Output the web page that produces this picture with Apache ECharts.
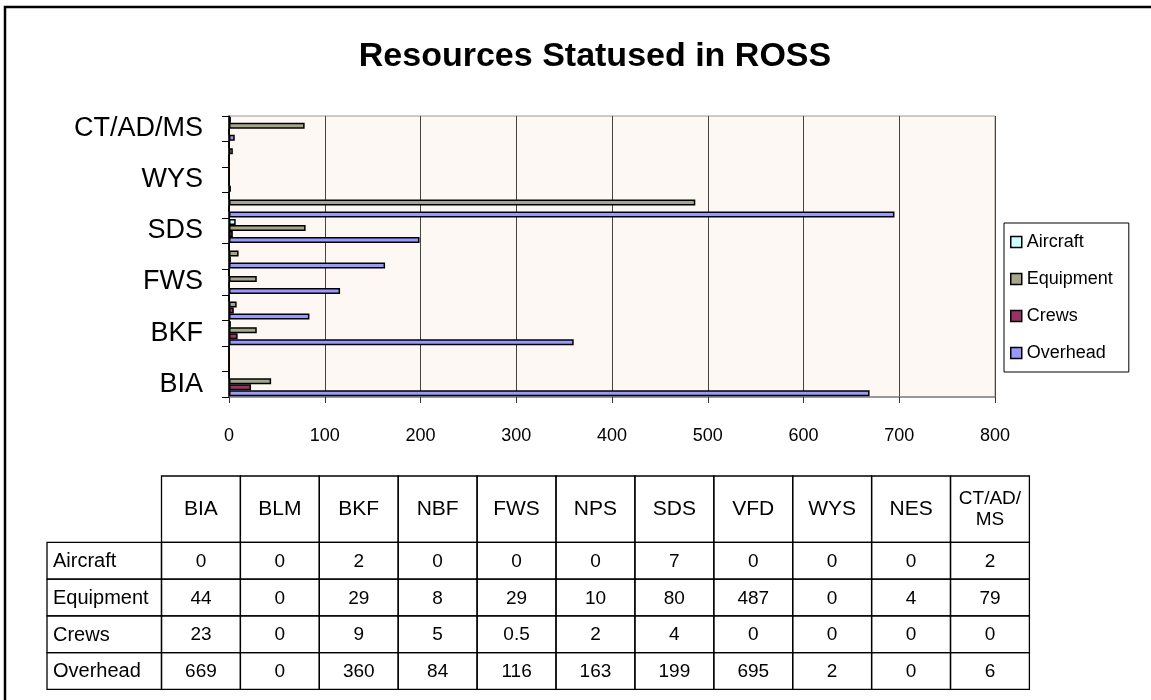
<!DOCTYPE html>
<html>
<head>
<title>Resources Statused in ROSS</title>
<meta charset="UTF-8">
<script src="https://cdn.jsdelivr.net/npm/echarts@6/dist/echarts.min.js"></script>
<style>
  html, body { margin: 0; padding: 0; background: #fff; }
</style>
</head>
<body>
<div id="main" style="width:1151px;height:700px"></div>
<script type="text/javascript">
  // agencies, bottom to top on the chart, left to right in the table
  var agencies = ['BIA', 'BLM', 'BKF', 'NBF', 'FWS', 'NPS', 'SDS', 'VFD', 'WYS', 'NES', 'CT/AD/MS'];
  var seriesNames = ['Aircraft', 'Equipment', 'Crews', 'Overhead'];
  var aircraft  = [0, 0, 2, 0, 0, 0, 7, 0, 0, 0, 2];
  var equipment = [44, 0, 29, 8, 29, 10, 80, 487, 0, 4, 79];
  var crews     = [23, 0, 9, 5, 0.5, 2, 4, 0, 0, 0, 0];
  var overhead  = [669, 0, 360, 84, 116, 163, 199, 695, 2, 0, 6];
  var xTicks = [0, 100, 200, 300, 400, 500, 600, 700, 800];

  var values = [aircraft, equipment, crews, overhead];
  var colors = ['#ccffff', '#a6a68a', '#993366', '#9999ff'];
  var font = '"Liberation Sans", Arial, sans-serif';

  var series = [];
  for (var i = 0; i < seriesNames.length; i++) {
    series.push({
      name: seriesNames[i],
      type: 'bar',
      barWidth: 6,
      barGap: '0%',
      itemStyle: { color: colors[i], borderColor: '#000', borderWidth: 1.5 },
      data: values[i]
    });
  }

  // data table under the chart
  var tbl = [];
  var lx = 47, cx = 161.5, cw = 78.9, hy = 476, hh = 66.3, rh = 36.75;
  var line = { stroke: '#000', lineWidth: 1.3, fill: null };
  for (var c = 0; c < agencies.length; c++) {
    var head = agencies[c].length > 6 ? agencies[c].slice(0, 6) + '\n' + agencies[c].slice(6) : agencies[c];
    tbl.push({ type: 'rect', shape: { x: cx + c * cw, y: hy, width: cw, height: hh }, style: line });
    tbl.push({ type: 'text', x: cx + c * cw + cw / 2, y: hy + hh / 2,
      style: { text: head, font: (head.indexOf('\n') > 0 ? '19px ' : '21px ') + font,
               align: 'center', verticalAlign: 'middle', lineHeight: 21, fill: '#000' } });
  }
  for (var r = 0; r < seriesNames.length; r++) {
    var ry = hy + hh + r * rh;
    tbl.push({ type: 'rect', shape: { x: lx, y: ry, width: cx - lx, height: rh }, style: line });
    tbl.push({ type: 'text', x: lx + 6, y: ry + rh / 2 + 1,
      style: { text: seriesNames[r], font: '20px ' + font, verticalAlign: 'middle', fill: '#000' } });
    for (var c = 0; c < agencies.length; c++) {
      tbl.push({ type: 'rect', shape: { x: cx + c * cw, y: ry, width: cw, height: rh }, style: line });
      tbl.push({ type: 'text', x: cx + c * cw + cw / 2, y: ry + rh / 2 + 1,
        style: { text: String(values[r][c]), font: '19px ' + font,
                 align: 'center', verticalAlign: 'middle', fill: '#000' } });
    }
  }
  // outer frame of the chart area
  tbl.push({ type: 'polyline', shape: { points: [[5, 700], [5, 7], [1151, 7]] },
    style: { stroke: '#000', lineWidth: 2.5, fill: null } });

  var option = {
    backgroundColor: '#fff',
    animation: false,
    title: {
      text: 'Resources Statused in ROSS',
      left: 590,
      textAlign: 'center',
      top: 35,
      textStyle: { fontFamily: font, fontSize: 34, fontWeight: 'bold', color: '#000' }
    },
    legend: {
      orient: 'vertical',
      left: 1004,
      top: 223,
      data: seriesNames,
      icon: 'rect',
      itemWidth: 11,
      itemHeight: 11,
      itemGap: 17,
      padding: [9, 16, 9, 6],
      borderColor: '#000',
      borderWidth: 1,
      itemStyle: { borderColor: '#000', borderWidth: 1.5 },
      textStyle: { fontFamily: font, fontSize: 18, color: '#000', lineHeight: 20 }
    },
    grid: {
      left: 229, right: 156, top: 116, bottom: 303,
      show: true, backgroundColor: '#fdf8f3', borderColor: '#999', borderWidth: 1
    },
    xAxis: {
      type: 'value',
      min: 0, max: 800, interval: 100,
      axisLine: { show: true, lineStyle: { color: '#888', width: 1.5 } },
      axisTick: { show: true, length: 6, lineStyle: { color: '#333' } },
      axisLabel: { margin: 30, fontFamily: font, fontSize: 18, color: '#000',
                   formatter: function (v) { return xTicks.indexOf(v) >= 0 ? String(v) : ''; } },
      splitLine: { show: true, lineStyle: { color: '#444', width: 1 } }
    },
    yAxis: {
      type: 'category',
      data: agencies,
      axisLine: { show: true, lineStyle: { color: '#000', width: 1.5 } },
      axisTick: { show: true, interval: 0, length: 7, lineStyle: { color: '#000' } },
      axisLabel: { interval: 1, margin: 26, fontFamily: font, fontSize: 27, color: '#000' },
      splitLine: { show: false }
    },
    series: series,
    graphic: tbl
  };

  var myChart = echarts.init(document.getElementById('main'));
  myChart.setOption(option);
</script>
</body>
</html>
